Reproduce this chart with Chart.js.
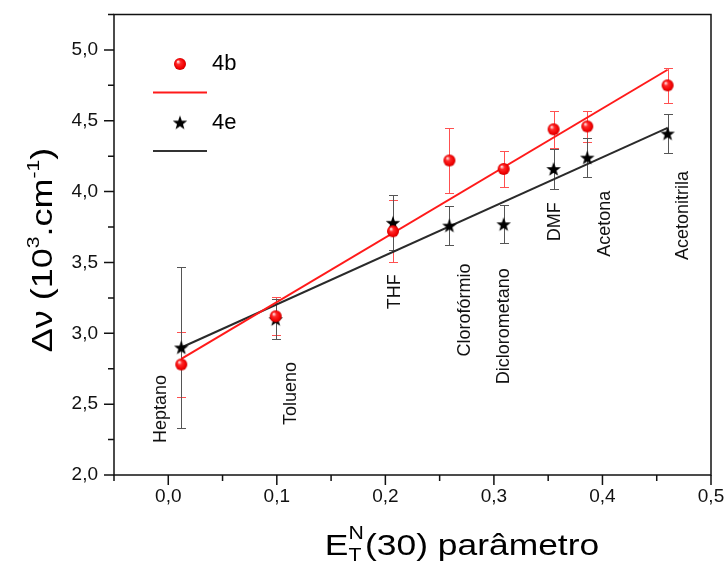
<!doctype html>
<html lang="pt">
<head>
<meta charset="utf-8">
<title>ET(N)(30)</title>
<style>
  * { margin: 0; padding: 0; }
  body { background: #fff; }
  .chartBox { width: 728px; height: 563px; }
</style>
</head>
<body>
<div class="chartBox"><canvas id="myChart" width="728" height="563"></canvas></div>
<script src="https://cdn.jsdelivr.net/npm/chart.js/dist/chart.umd.min.js"></script>
<script>
// data
const solvents = ['Heptano', 'Tolueno', 'THF', 'Clorofórmio', 'Diclorometano', 'DMF', 'Acetona', 'Acetonitrila'];
const etn = [0.012, 0.099, 0.207, 0.259, 0.309, 0.355, 0.386, 0.460];
const nu4b = [2.78, 3.12, 3.72, 4.22, 4.16, 4.44, 4.46, 4.75];
const err4b = [0.23, 0.135, 0.22, 0.23, 0.125, 0.13, 0.11, 0.125];
const nu4e = [2.90, 3.10, 3.78, 3.76, 3.77, 4.16, 4.24, 4.41];
const err4e = [0.57, 0.14, 0.195, 0.14, 0.135, 0.14, 0.14, 0.14];
const fitX = [0.012, 0.460];
const fit4b = [2.82, 4.86];
const fit4e = [2.90, 4.45];
const seriesNames = ['4b', '4e'];
// where the solvent names sit (x value, y value of the text start)
const labelX = [-0.007, 0.113, 0.209, 0.273, 0.309, 0.3565, 0.402, 0.474];
const labelY = [2.226, 2.353, 3.17, 2.837, 2.64, 3.65, 3.54, 3.517];
// axes
const xTicks = [0, 0.1, 0.2, 0.3, 0.4, 0.5];
const xMinor = [-0.05, 0.05, 0.15, 0.25, 0.35, 0.45];
const yTicks = [2.0, 2.5, 3.0, 3.5, 4.0, 4.5, 5.0];
const yMinor = [2.25, 2.75, 3.25, 3.75, 4.25, 4.75, 5.25];

const FONT = '"Liberation Sans", Arial, sans-serif';
const RED = '#ff1a1a';
const BLACK = '#000';

// marker images
function sphere(r) {
  const c = document.createElement('canvas');
  const s = Math.ceil(r * 2 + 2);
  c.width = s; c.height = s;
  const g = c.getContext('2d');
  const m = s / 2;
  const grad = g.createRadialGradient(m - r * 0.35, m - r * 0.4, r * 0.1, m, m, r);
  grad.addColorStop(0, '#ffd6d6');
  grad.addColorStop(0.3, '#ff2a2a');
  grad.addColorStop(0.8, '#f00000');
  grad.addColorStop(1, '#c80000');
  g.fillStyle = grad;
  g.beginPath(); g.arc(m, m, r, 0, Math.PI * 2); g.fill();
  return c;
}
function star(ro, ri) {
  const c = document.createElement('canvas');
  const s = Math.ceil(ro * 2 + 2);
  c.width = s; c.height = s;
  const g = c.getContext('2d');
  const m = s / 2;
  g.fillStyle = BLACK;
  g.beginPath();
  for (let i = 0; i < 10; i++) {
    const r = i % 2 ? ri : ro;
    const a = -Math.PI / 2 + i * Math.PI / 5;
    g.lineTo(m + r * Math.cos(a), m + 0.7 + r * Math.sin(a));
  }
  g.closePath(); g.fill();
  return c;
}
const redBall = sphere(6);
const blackStar = star(7.6, 3.1);

const pts = (xs, ys) => xs.map((v, i) => ({ x: v, y: ys[i] }));
const fmt = v => v.toFixed(1).replace('.', ',');

const errorBars = {
  id: 'errorBars',
  beforeDatasetsDraw(chart) {
    const { ctx, scales: { x, y } } = chart;
    const sets = [[nu4b, err4b, '#ff5050'], [nu4e, err4e, '#555']];
    ctx.save();
    ctx.lineWidth = 1;
    sets.forEach(([vals, errs, col]) => {
      ctx.strokeStyle = col;
      ctx.beginPath();
      etn.forEach((xv, i) => {
        const px = Math.round(x.getPixelForValue(xv)) + 0.5;
        const top = Math.round(y.getPixelForValue(vals[i] + errs[i])) + 0.5;
        const bot = Math.round(y.getPixelForValue(vals[i] - errs[i])) + 0.5;
        ctx.moveTo(px, top); ctx.lineTo(px, bot);
        ctx.moveTo(px - 4.5, top); ctx.lineTo(px + 4.5, top);
        ctx.moveTo(px - 4.5, bot); ctx.lineTo(px + 4.5, bot);
      });
      ctx.stroke();
    });
    ctx.restore();
  }
};

const decorations = {
  id: 'decorations',
  afterDraw(chart) {
    const { ctx, chartArea: a, scales: { x, y } } = chart;
    ctx.save();
    // frame + ticks
    ctx.strokeStyle = '#111';
    ctx.lineWidth = 1.5;
    ctx.strokeRect(a.left, a.top, a.right - a.left, a.bottom - a.top);
    ctx.beginPath();
    xTicks.forEach(v => { const p = x.getPixelForValue(v); ctx.moveTo(p, a.bottom); ctx.lineTo(p, a.bottom + 10); });
    xMinor.forEach(v => { const p = x.getPixelForValue(v); ctx.moveTo(p, a.bottom); ctx.lineTo(p, a.bottom + 6); });
    yTicks.forEach(v => { const p = y.getPixelForValue(v); ctx.moveTo(a.left, p); ctx.lineTo(a.left - 10, p); });
    yMinor.forEach(v => { const p = y.getPixelForValue(v); ctx.moveTo(a.left, p); ctx.lineTo(a.left - 6, p); });
    ctx.stroke();

    // solvent names, rotated
    ctx.fillStyle = '#111';
    ctx.font = '18px ' + FONT;
    ctx.textAlign = 'left';
    ctx.textBaseline = 'middle';
    solvents.forEach((s, i) => {
      ctx.save();
      ctx.translate(x.getPixelForValue(labelX[i]), y.getPixelForValue(labelY[i]));
      ctx.rotate(-Math.PI / 2);
      ctx.fillText(s, 0, 0);
      ctx.restore();
    });

    // legend
    ctx.drawImage(redBall, 180 - redBall.width / 2, 64 - redBall.height / 2);
    ctx.drawImage(blackStar, 180 - blackStar.width / 2, 122.5 - blackStar.height / 2);
    ctx.font = '22px ' + FONT;
    ctx.fillStyle = '#000';
    ctx.fillText(seriesNames[0], 212, 64);
    ctx.fillText(seriesNames[1], 212, 123);
    ctx.lineWidth = 2;
    ctx.strokeStyle = RED;
    ctx.beginPath(); ctx.moveTo(153, 92.5); ctx.lineTo(207, 92.5); ctx.stroke();
    ctx.strokeStyle = '#333';
    ctx.beginPath(); ctx.moveTo(153, 151); ctx.lineTo(207, 151); ctx.stroke();

    // x title: E_T^N(30) parâmetro (text is a bit wide in the original)
    const big = '30px ' + FONT, small = '18px ' + FONT;
    ctx.textBaseline = 'alphabetic';
    ctx.save();
    ctx.translate(462, 555);
    ctx.scale(1.18, 1);
    ctx.font = big;
    const wE = ctx.measureText('E').width;
    const wRest = ctx.measureText('(30) parâmetro').width;
    ctx.font = small;
    const wS = Math.max(ctx.measureText('T').width, ctx.measureText('N').width);
    let sx = -(wE + wS + 1 + wRest) / 2;
    ctx.font = big; ctx.fillText('E', sx, 0); sx += wE;
    ctx.font = small;
    ctx.fillText('T', sx, 6);
    ctx.fillText('N', sx, -16);
    sx += wS + 1;
    ctx.font = big; ctx.fillText('(30) parâmetro', sx, 0);
    ctx.restore();

    // y title: Δν (10^3.cm^-1)
    ctx.save();
    ctx.translate(52, 250);
    ctx.rotate(-Math.PI / 2);
    ctx.scale(1.24, 1);
    const yBig = '29px ' + FONT, ySmall = '17px ' + FONT;
    const parts = [['Δν (10', 0], ['3', 1], ['.cm', 0], ['-1', 1], [')', 0]];
    let tot = 0;
    parts.forEach(([t, sup]) => { ctx.font = sup ? ySmall : yBig; tot += ctx.measureText(t).width; });
    let tx = -tot / 2;
    parts.forEach(([t, sup]) => {
      ctx.font = sup ? ySmall : yBig;
      ctx.fillText(t, tx, sup ? -13 : 0);
      tx += ctx.measureText(t).width;
    });
    ctx.restore();
    ctx.restore();
  }
};

const data = {
  datasets: [
    { type: 'scatter', label: seriesNames[0], data: pts(etn, nu4b), pointStyle: redBall, order: 1 },
    { type: 'scatter', label: seriesNames[1], data: pts(etn, nu4e), pointStyle: blackStar, order: 2 },
    { type: 'line', data: pts(fitX, fit4b), borderColor: RED, borderWidth: 2, pointRadius: 0, order: 3 },
    { type: 'line', data: pts(fitX, fit4e), borderColor: '#2a2a2a', borderWidth: 2, pointRadius: 0, order: 4 }
  ]
};

const config = {
  type: 'scatter',
  data,
  options: {
    responsive: false,
    animation: false,
    events: [],
    layout: { padding: { top: 14.5, right: 17, left: 0, bottom: 0 } },
    plugins: { legend: { display: false }, tooltip: { enabled: false } },
    scales: {
      x: {
        type: 'linear', min: -0.05, max: 0.5,
        grid: { display: false, drawTicks: false },
        border: { display: false },
        afterBuildTicks: s => { s.ticks = xTicks.map(v => ({ value: v })); },
        afterFit: s => { s.height = 88; s.paddingLeft = 0; s.paddingRight = 0; },
        ticks: { padding: 10, color: '#111', font: { family: FONT, size: 19 }, callback: v => fmt(v) }
      },
      y: {
        type: 'linear', min: 2, max: 5.25,
        grid: { display: false, drawTicks: false },
        border: { display: false },
        afterBuildTicks: s => { s.ticks = yTicks.map(v => ({ value: v })); },
        afterFit: s => { s.width = 114; s.paddingTop = 0; s.paddingBottom = 0; },
        ticks: { padding: 16, color: '#111', font: { family: FONT, size: 19 }, callback: v => fmt(v) }
      }
    }
  },
  plugins: [errorBars, decorations]
};

const myChart = new Chart(document.getElementById('myChart'), config);
</script>
</body>
</html>
